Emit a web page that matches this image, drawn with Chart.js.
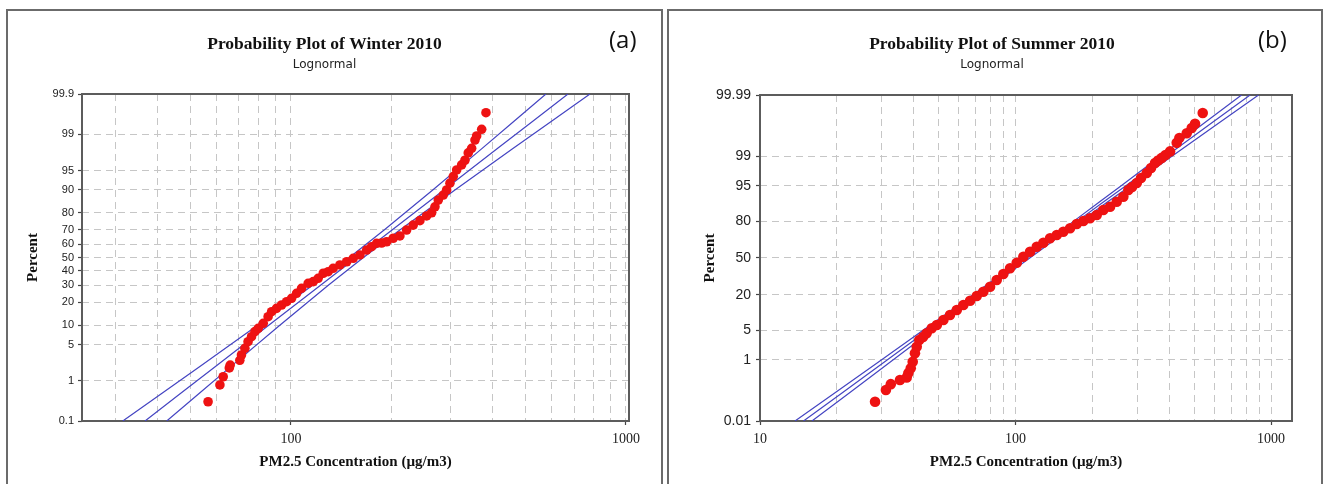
<!DOCTYPE html>
<html>
<head>
<meta charset="utf-8">
<script src="https://cdn.jsdelivr.net/npm/chart.js@4.4.1/dist/chart.umd.min.js"></script>
<style>
  body { margin: 0; background: #fff; width: 1324px; height: 484px; overflow: hidden; position: relative; }
  .panel { position: absolute; top: 9px; height: 490px; border: 2px solid #6b6b6b; box-sizing: border-box; }
  canvas { position: absolute; top: 0; }
  .tag { position: absolute; top: 23px; font: 24px "Open Sans", sans-serif; color: #111; line-height: 32px; }
</style>
</head>
<body>
<div class="panel" style="left:6px;width:657px"></div>
<div class="panel" style="left:667px;width:656px"></div>
<canvas id="winter" width="662" height="484" style="left:0"></canvas>
<canvas id="summer" width="662" height="484" style="left:662px"></canvas>
<div class="tag" style="left:609px">(a)</div>
<div class="tag" style="left:1258px">(b)</div>
<script>
// (a) Winter 2010 - sorted concentrations and their plotting positions (%)
const winterConc = [56.6, 61.4, 62.8, 65.5, 65.9, 70.4, 71.2, 72.9, 74.5, 76.3, 78.1, 79.9, 82.7, 85.5, 87.6, 90.6, 93.8, 97.1, 100.5, 104.0,
  107.6, 112.6, 116.6, 120.6, 124.9, 129.2, 133.7, 140.0, 146.7, 153.5, 160.7, 168.3, 174.1, 180.3, 186.5, 193.1, 202.0, 211.5, 221.5, 231.8,
  242.7, 254.1, 263.0, 269.1, 275.3, 284.9, 291.6, 298.3, 305.2, 312.4, 323.3, 330.7, 338.3, 346.3, 354.3, 358.4, 371.0, 382.1];
const winterPct = [0.32, 0.80, 1.21, 1.84, 2.1, 2.6, 3.27, 4.30, 5.58, 6.72, 8.05, 9.03, 10.67, 13.16, 15.27, 16.83, 18.46, 20.16, 22.03, 24.92,
  28.03, 31.28, 32.4, 34.7, 38.3, 39.4, 41.9, 44.4, 46.8, 49.4, 51.9, 55.6, 58.1, 60.6, 60.8, 61.7, 64.2, 65.8, 69.8, 73.0,
  75.7, 78.4, 80.1, 83.1, 86.1, 88.1, 89.9, 92.0, 93.7, 95.1, 96.0, 96.7, 97.6, 98.05, 98.68, 98.92, 99.23, 99.69];
// fitted lognormal line and its confidence bounds
const winterLinePct = [0.1, 0.5, 2, 10, 30, 50, 70, 90, 98, 99.5, 99.9];
const winterFit = [36.7, 46.70, 59.68, 85.86, 122.6, 156.9, 200.8, 286.7, 412.3, 527.1, 671.3];
const winterLower = [31.5, 41.05, 53.63, 79.55, 116.1, 149.5, 190.2, 265.6, 370.7, 463.3, 576.9];
const winterUpper = [42.6, 53.10, 66.40, 92.67, 129.3, 164.6, 211.9, 309.4, 458.7, 599.5, 780.7];
const winterXTicks = [30, 40, 50, 60, 70, 80, 90, 100, 200, 300, 400, 500, 600, 700, 800, 900, 1000];
const winterYTicks = [0.1, 1, 5, 10, 20, 30, 40, 50, 60, 70, 80, 90, 95, 99, 99.9];

// (b) Summer 2010
const summerConc = [28.2, 31.1, 32.5, 35.3, 37.5, 38.05, 38.9, 39.6, 40.4, 41.05, 42.0, 43.45, 44.9, 47.0, 49.2, 52.2, 55.4, 58.9, 62.5, 66.4, 70.5,
  74.8, 79.5, 84.4, 89.6, 95.2, 101.1, 107.3, 114.0, 121.1, 128.5, 136.5, 145.0, 153.8, 163.5, 173.6, 184.3, 195.7, 207.9, 220.6, 234.4,
  248.9, 264.2, 276.4, 285.8, 298.2, 309.8, 326.3, 339.1, 351.6, 361.2, 373.4, 386.5, 402.5, 427.5, 437.7, 467.8, 489.3, 504.1, 540.3];
const summerPct = [0.052, 0.13, 0.20, 0.27, 0.32, 0.43, 0.59, 0.90, 1.49, 2.15, 3.07, 3.58, 4.29, 5.44, 6.32, 7.86, 9.68, 11.78, 14.18, 16.50, 19.30,
  22.10, 25.63, 30.78, 35.76, 40.71, 45.74, 51.19, 55.72, 60.18, 63.65, 67.33, 70.02, 72.58, 75.11, 78.11, 80.07, 81.75, 83.67, 86.33, 87.90,
  90.06, 91.91, 93.96, 94.74, 95.65, 96.60, 97.38, 98.00, 98.49, 98.69, 98.88, 99.06, 99.25, 99.57, 99.69, 99.78, 99.85, 99.89, 99.953];
const summerLinePct = [0.01, 0.1, 1, 5, 10, 20, 35, 50, 65, 80, 90, 95, 99, 99.9, 99.99];
const summerFit = [14.80, 20.81, 31.44, 45.45, 55.33, 70.2, 89.85, 110.7, 136.3, 174.5, 221.4, 269.5, 389.5, 588.8, 827.9];
const summerLower = [13.71, 19.48, 29.84, 43.61, 53.33, 68.0, 87.37, 107.7, 132.6, 169.1, 213.5, 258.5, 369.7, 551.1, 766.6];
const summerUpper = [15.97, 22.22, 33.13, 47.37, 57.38, 72.44, 92.39, 113.7, 140.2, 180.1, 229.6, 280.9, 410.6, 628.7, 893.6];
const summerXTicks = [10, 20, 30, 40, 50, 60, 70, 80, 90, 100, 200, 300, 400, 500, 600, 700, 800, 900, 1000];
const summerYTicks = [0.01, 1, 5, 20, 50, 80, 95, 99, 99.99];

const xLabels = [10, 100, 1000];

// inverse normal cdf (Acklam)
function probit(p) {
  const a = [-39.69683028665376, 220.9460984245205, -275.9285104469687, 138.3577518672690, -30.66479806614716, 2.506628277459239];
  const b = [-54.47609879822406, 161.5858368580409, -155.6989798598866, 66.80131188771972, -13.28068155288572];
  const c = [-0.007784894002430293, -0.3223964580411365, -2.400758277161838, -2.549732539343734, 4.374664141464968, 2.938163982698783];
  const d = [0.007784695709041462, 0.3224671290700398, 2.445134137142996, 3.754408661907416];
  const lo = 0.02425;
  if (p < lo) {
    const q = Math.sqrt(-2 * Math.log(p));
    return (((((c[0] * q + c[1]) * q + c[2]) * q + c[3]) * q + c[4]) * q + c[5]) / ((((d[0] * q + d[1]) * q + d[2]) * q + d[3]) * q + 1);
  }
  if (p > 1 - lo) {
    const q = Math.sqrt(-2 * Math.log(1 - p));
    return -(((((c[0] * q + c[1]) * q + c[2]) * q + c[3]) * q + c[4]) * q + c[5]) / ((((d[0] * q + d[1]) * q + d[2]) * q + d[3]) * q + 1);
  }
  const q = p - 0.5, r = q * q;
  return (((((a[0] * r + a[1]) * r + a[2]) * r + a[3]) * r + a[4]) * r + a[5]) * q / (((((b[0] * r + b[1]) * r + b[2]) * r + b[3]) * r + b[4]) * r + 1);
}

function normCdf(z) {
  const x = Math.abs(z) / Math.SQRT2;
  const t = 1 / (1 + 0.3275911 * x);
  const erf = 1 - (((((1.061405429 * t - 1.453152027) * t) + 1.421413741) * t - 0.284496736) * t + 0.254829592) * t * Math.exp(-x * x);
  return z >= 0 ? 0.5 * (1 + erf) : 0.5 * (1 - erf);
}

// normal probability axis
class ProbitScale extends Chart.Scale {
  parse(raw, index) {
    const v = Chart.LinearScale.prototype.parse.call(this, raw, index);
    return isFinite(v) && v > 0 && v < 100 ? v : null;
  }
  determineDataLimits() {
    this.min = this.options.min;
    this.max = this.options.max;
  }
  buildTicks() {
    return this.options.tickValues.map(v => ({ value: v }));
  }
  getLabelForValue(v) {
    return String(v);
  }
  configure() {
    super.configure();
    this._zMin = probit(this.min / 100);
    this._zRange = probit(this.max / 100) - this._zMin;
  }
  getPixelForValue(v) {
    return this.getPixelForDecimal((probit(v / 100) - this._zMin) / this._zRange);
  }
  getValueForPixel(px) {
    return 100 * normCdf(this._zMin + this.getDecimalForPixel(px) * this._zRange);
  }
}
ProbitScale.id = 'probit';
ProbitScale.defaults = {};
Chart.register(ProbitScale);

const framePlugin = {
  id: 'frame',
  beforeDatasetsDraw(chart) {
    const { ctx, chartArea: a } = chart;
    ctx.save();
    ctx.strokeStyle = '#5c5c5c';
    ctx.lineWidth = 2;
    ctx.strokeRect(a.left, a.top, a.right - a.left, a.bottom - a.top);
    ctx.restore();
  }
};

const pairs = (xs, ys) => xs.map((x, i) => ({ x: x, y: ys[i] }));
const blue = '#4444c2';
const gridColor = '#c6c6c6';

function makeChart(id, cfg) {
  const lineSet = (xs) => ({ data: pairs(xs, cfg.linePct), showLine: true, borderColor: blue, borderWidth: 1.2, pointRadius: 0, tension: 0 });
  return new Chart(document.getElementById(id), {
    type: 'scatter',
    data: {
      datasets: [
        { data: pairs(cfg.conc, cfg.pct), backgroundColor: '#ee1212', borderWidth: 0, pointRadius: cfg.dot },
        lineSet(cfg.fit),
        lineSet(cfg.lower),
        lineSet(cfg.upper)
      ]
    },
    options: {
      responsive: false,
      animation: false,
      events: [],
      layout: { padding: { left: cfg.padLeft, right: cfg.padRight, top: 0, bottom: 0 } },
      plugins: {
        legend: { display: false },
        tooltip: { enabled: false },
        title: {
          display: true, text: cfg.title, color: '#111',
          font: { family: 'Liberation Serif', size: 17.5, weight: 'bold' },
          padding: { top: 33.5, bottom: 2 }
        },
        subtitle: {
          display: true, text: 'Lognormal', color: '#222',
          font: { family: 'DejaVu Sans', size: 12 },
          padding: { top: 1.3, bottom: cfg.subBottom }
        }
      },
      scales: {
        x: {
          type: 'logarithmic', min: cfg.xMin, max: cfg.xMax,
          afterBuildTicks: s => { s.ticks = cfg.xTicks.map(v => ({ value: v })); },
          afterFit: s => { s.height = 63; },
          ticks: {
            autoSkip: false, maxRotation: 0, padding: 5.6, color: '#222',
            font: { family: 'Liberation Serif', size: 14 },
            callback: v => xLabels.includes(v) ? String(v) : ''
          },
          grid: {
            color: gridColor, lineWidth: 1, tickLength: 4, tickWidth: 1.2,
            tickColor: c => (c.tick && xLabels.includes(c.tick.value)) ? '#444' : 'rgba(0,0,0,0)'
          },
          border: { display: false, dash: [7, 5] },
          title: {
            display: true, text: 'PM2.5 Concentration (µg/m3)', color: '#111',
            font: { family: 'Liberation Serif', size: 15, weight: 'bold' },
            padding: { top: 0, bottom: 13 }
          }
        },
        y: {
          type: 'probit', min: cfg.yMin, max: cfg.yMax, tickValues: cfg.yTicks,
          afterFit: s => { s.width = cfg.yWidth; },
          ticks: {
            autoSkip: false, padding: cfg.yPad, color: '#222',
            font: { family: 'Liberation Sans', size: cfg.yFont }
          },
          grid: { color: gridColor, lineWidth: 1, tickLength: 4, tickWidth: 1.2, tickColor: '#444' },
          border: { display: false, dash: [7, 5] },
          title: {
            display: true, text: 'Percent', color: '#111',
            font: { family: 'Liberation Serif', size: 15, weight: 'bold' },
            padding: { top: cfg.titlePad, bottom: 0 }
          }
        }
      }
    },
    plugins: [framePlugin]
  });
}

makeChart('winter', {
  title: 'Probability Plot of Winter 2010',
  conc: winterConc, pct: winterPct, linePct: winterLinePct,
  fit: winterFit, lower: winterLower, upper: winterUpper,
  xTicks: winterXTicks, yTicks: winterYTicks,
  xMin: 23.8, xMax: 1021, yMin: 0.1, yMax: 99.9,
  padLeft: 20, padRight: 33, yWidth: 62, titlePad: 4, yPad: 4, yFont: 11, subBottom: 21.8, dot: 4.8
});

makeChart('summer', {
  title: 'Probability Plot of Summer 2010',
  conc: summerConc, pct: summerPct, linePct: summerLinePct,
  fit: summerFit, lower: summerLower, upper: summerUpper,
  xTicks: summerXTicks, yTicks: summerYTicks,
  xMin: 10, xMax: 1208, yMin: 0.01, yMax: 99.99,
  padLeft: 30, padRight: 32, yWidth: 68, titlePad: 9, yPad: 5, yFont: 14, subBottom: 22.8, dot: 5.3
});
</script>
</body>
</html>
